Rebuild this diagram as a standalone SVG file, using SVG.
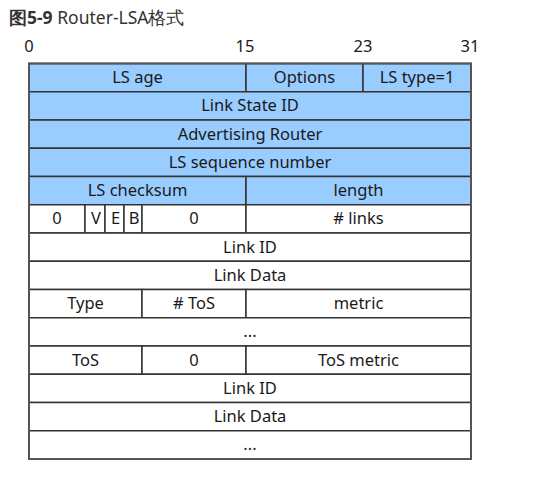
<svg xmlns="http://www.w3.org/2000/svg" width="534" height="484" viewBox="0 0 534 484">
<style>
text{font-family:"Noto Sans","Open Sans","Liberation Sans",sans-serif;font-size:16.5px;fill:#1a1a1a;text-anchor:middle}
.title{text-anchor:start;fill:#333;font-size:17.5px}
.blue{fill:#99ccff;stroke:#333;stroke-width:1.5}
.white{fill:#ffffff;stroke:#333;stroke-width:1.5}
.outer{fill:none;stroke:#555;stroke-width:2}
</style>
<rect width="534" height="484" fill="#fff"/>
<text class="title" x="9" y="24"><tspan font-weight="bold">图5-9</tspan> Router-LSA格式</text>
<g id="bits">
<text x="29" y="52">0</text>
<text x="245" y="52">15</text>
<text x="363" y="52">23</text>
<text x="470" y="52">31</text>
</g>
<g id="row1">
<rect class="blue" x="29" y="63.5" width="217" height="28.25"/>
<rect class="blue" x="246" y="63.5" width="117" height="28.25"/>
<rect class="blue" x="363" y="63.5" width="108" height="28.25"/>
<text x="137.5" y="83">LS age</text>
<text x="304.5" y="83">Options</text>
<text x="417" y="83">LS type=1</text>
</g>
<g id="row2">
<rect class="blue" x="29" y="91.75" width="442" height="28.25"/>
<text x="250" y="111.25">Link State ID</text>
</g>
<g id="row3">
<rect class="blue" x="29" y="120" width="442" height="28.25"/>
<text x="250" y="139.5">Advertising Router</text>
</g>
<g id="row4">
<rect class="blue" x="29" y="148.25" width="442" height="28.25"/>
<text x="250" y="167.75">LS sequence number</text>
</g>
<g id="row5">
<rect class="blue" x="29" y="176.5" width="217" height="28.25"/>
<rect class="blue" x="246" y="176.5" width="225" height="28.25"/>
<text x="137.5" y="196">LS checksum</text>
<text x="358.5" y="196">length</text>
</g>
<g id="row6">
<rect class="white" x="29" y="204.75" width="56" height="28.25"/>
<rect class="white" x="85" y="204.75" width="20" height="28.25"/>
<rect class="white" x="105" y="204.75" width="19" height="28.25"/>
<rect class="white" x="124" y="204.75" width="18" height="28.25"/>
<rect class="white" x="142" y="204.75" width="104" height="28.25"/>
<rect class="white" x="246" y="204.75" width="225" height="28.25"/>
<text x="57" y="224.25">0</text>
<text x="96" y="224.25">V</text>
<text x="115.5" y="224.25">E</text>
<text x="134" y="224.25">B</text>
<text x="194" y="224.25">0</text>
<text x="358.5" y="224.25"># links</text>
</g>
<g id="row7">
<rect class="white" x="29" y="233" width="442" height="28.25"/>
<text x="250" y="252.5">Link ID</text>
</g>
<g id="row8">
<rect class="white" x="29" y="261.25" width="442" height="28.25"/>
<text x="250" y="280.75">Link Data</text>
</g>
<g id="row9">
<rect class="white" x="29" y="289.5" width="113" height="28.25"/>
<rect class="white" x="142" y="289.5" width="104" height="28.25"/>
<rect class="white" x="246" y="289.5" width="225" height="28.25"/>
<text x="85.5" y="309">Type</text>
<text x="194" y="309"># ToS</text>
<text x="358.5" y="309">metric</text>
</g>
<g id="row10">
<rect class="white" x="29" y="317.75" width="442" height="28.25"/>
<text x="250" y="337.25">...</text>
</g>
<g id="row11">
<rect class="white" x="29" y="346" width="113" height="28.25"/>
<rect class="white" x="142" y="346" width="104" height="28.25"/>
<rect class="white" x="246" y="346" width="225" height="28.25"/>
<text x="85.5" y="365.5">ToS</text>
<text x="194" y="365.5">0</text>
<text x="358.5" y="365.5">ToS metric</text>
</g>
<g id="row12">
<rect class="white" x="29" y="374.25" width="442" height="28.25"/>
<text x="250" y="393.75">Link ID</text>
</g>
<g id="row13">
<rect class="white" x="29" y="402.5" width="442" height="28.25"/>
<text x="250" y="422">Link Data</text>
</g>
<g id="row14">
<rect class="white" x="29" y="430.75" width="442" height="28.25"/>
<text x="250" y="450.25">...</text>
</g>
<g id="connectors">
<rect class="outer" x="29" y="63.5" width="442" height="395.5"/>
</g>
</svg>
